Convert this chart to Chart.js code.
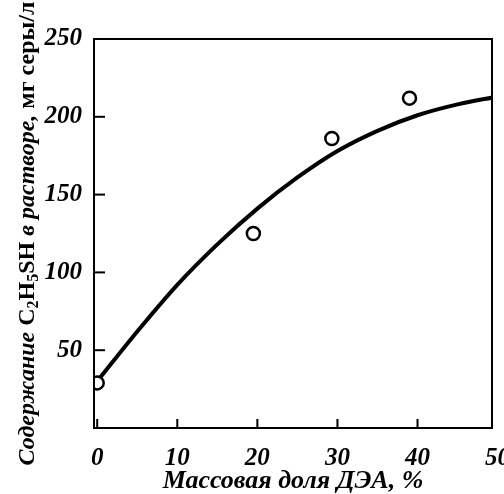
<!DOCTYPE html>
<html>
<head>
<meta charset="utf-8">
<script src="https://cdn.jsdelivr.net/npm/chart.js@4/dist/chart.umd.min.js"></script>
<style>
  html, body { margin: 0; padding: 0; background: #fff; }
  #wrap { width: 504px; height: 494px; }
</style>
</head>
<body>
<div id="wrap"><canvas id="myChart" width="504" height="494"></canvas></div>
<script>
// measured points
const dea = [0, 19.5, 29.3, 39]
const sulfur = [29, 125, 186, 212]
// fitted curve
const fitX = [0, 5, 10, 15, 20, 25, 30, 35, 40, 45, 50]
const fitY = [30, 62, 92, 118, 141, 161, 178, 191, 201, 208, 213]
const xTicks = [0, 10, 20, 30, 40, 50]
const yTicks = [0, 50, 100, 150, 200, 250]

const xTitle = 'Массовая доля ДЭА, %'
// y title pieces: text, italic?, subscript?
const yTitle = [
  ['Содержание ', true, false],
  ['C', false, false],
  ['2', false, true],
  ['H', false, false],
  ['5', false, true],
  ['SH ', false, false],
  ['в растворе, ', true, false],
  ['мг серы/л', false, false]
]

const serif = "'Liberation Serif', 'DejaVu Serif', serif"

// frame, inner tick marks and the mixed-style y title
const framePlugin = {
  id: 'frame',
  afterDraw (chart) {
    const ctx = chart.ctx
    const a = chart.chartArea
    const xs = chart.scales.x
    const ys = chart.scales.y
    ctx.save()
    ctx.strokeStyle = '#000'
    ctx.lineWidth = 2
    ctx.strokeRect(a.left, a.top, a.right - a.left, a.bottom - a.top)
    xs.ticks.forEach(t => {
      const px = xs.getPixelForValue(t.value)
      if (px <= a.left + 2 || px >= a.right - 2) return
      ctx.beginPath()
      ctx.moveTo(px, a.bottom)
      ctx.lineTo(px, a.bottom - 9)
      ctx.stroke()
    })
    ys.ticks.forEach(t => {
      const py = ys.getPixelForValue(t.value)
      if (py <= a.top + 2 || py >= a.bottom - 2) return
      ctx.beginPath()
      ctx.moveTo(a.left, py)
      ctx.lineTo(a.left + 11, py)
      ctx.stroke()
    })

    // y title
    const size = 24
    const fontOf = (it, sub) => (it ? 'italic ' : '') + 'bold ' + (sub ? Math.round(size * 0.68) : size) + 'px ' + serif
    let total = 0
    yTitle.forEach(([txt, it, sub]) => {
      ctx.font = fontOf(it, sub)
      total += ctx.measureText(txt).width
    })
    ctx.translate(34, (a.top + a.bottom) / 2)
    ctx.rotate(-Math.PI / 2)
    ctx.fillStyle = '#000'
    ctx.textBaseline = 'alphabetic'
    let pos = -total / 2
    yTitle.forEach(([txt, it, sub]) => {
      ctx.font = fontOf(it, sub)
      ctx.fillText(txt, pos, sub ? 4 : 0)
      pos += ctx.measureText(txt).width
    })
    ctx.restore()
  }
}

new Chart(document.getElementById('myChart'), {
  type: 'scatter',
  data: {
    datasets: [
      {
        data: dea.map((v, i) => ({ x: v, y: sulfur[i] })),
        pointRadius: 6.5,
        pointBorderWidth: 2.5,
        pointBorderColor: '#000',
        pointBackgroundColor: '#fff',
        order: 0
      },
      {
        data: fitX.map((v, i) => ({ x: v, y: fitY[i] })),
        showLine: true,
        borderColor: '#000',
        borderWidth: 4,
        pointRadius: 0,
        cubicInterpolationMode: 'monotone',
        order: 1
      }
    ]
  },
  options: {
    responsive: false,
    animation: false,
    clip: { left: 0, top: 0, right: 0, bottom: 0 },
    layout: { padding: { top: 39, right: 12, left: 0, bottom: 0 } },
    plugins: { legend: { display: false }, tooltip: { enabled: false } },
    scales: {
      x: {
        type: 'linear',
        min: -0.4,
        max: 49.3,
        afterBuildTicks: s => { s.ticks = xTicks.map(v => ({ value: v })) },
        afterFit: s => { s.height = 66; s.paddingLeft = 0; s.paddingRight = 0 },
        grid: { display: false, drawTicks: false },
        border: { display: false },
        ticks: {
          color: '#000',
          padding: 16,
          maxRotation: 0,
          font: { family: serif, size: 25, style: 'italic', weight: 'bold' }
        },
        title: {
          display: true,
          text: xTitle,
          color: '#000',
          padding: { top: 0, bottom: -3 },
          font: { family: serif, size: 26, style: 'italic', weight: 'bold' }
        }
      },
      y: {
        type: 'linear',
        min: 0,
        max: 250,
        afterBuildTicks: s => { s.ticks = yTicks.map(v => ({ value: v })) },
        afterFit: s => { s.width = 94; s.paddingTop = 0; s.paddingBottom = 0 },
        grid: { display: false, drawTicks: false },
        border: { display: false },
        ticks: {
          color: '#000',
          padding: 12,
          callback: v => (v === 0 ? '' : v),
          font: { family: serif, size: 25, style: 'italic', weight: 'bold' }
        },
        title: { display: false }
      }
    }
  },
  plugins: [framePlugin]
})
</script>
</body>
</html>
